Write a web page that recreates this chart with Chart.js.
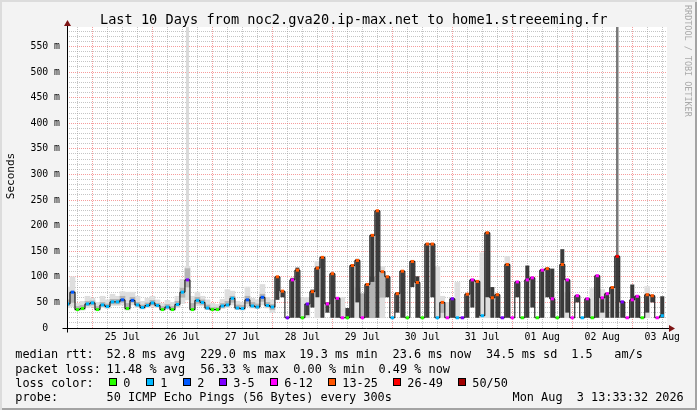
<!DOCTYPE html>
<html>
<head>
<meta charset="utf-8">
<title>Last 10 Days from noc2.gva20.ip-max.net to home1.streeeming.fr</title>
<script src="https://cdn.jsdelivr.net/npm/chart.js@4.4.1/dist/chart.umd.min.js"></script>
<style>
  html, body { margin: 0; padding: 0; background: #f3f3f3; }
  #frame {
    position: relative; width: 697px; height: 410px; overflow: hidden;
    background: #f3f3f3;
    box-shadow: inset 2px 2px 0 #dcdcdc, inset -2px -2px 0 #a3a3a3;
  }
  #chart { position: absolute; left: 0; top: 0; }
  .txt { position: absolute; font-family: 'DejaVu Sans Mono', monospace; white-space: pre; color: #000; }
  .leg { font-size: 11.85px; line-height: 14px; }
  .sw { position: absolute; top: 378px; width: 8px; height: 8px; box-sizing: border-box; border: 1px solid #000; }
  #title { left: 100px; top: 11px; font-size: 13.6px; line-height: 16px; }
  #ylabel { left: -39px; top: 169px; width: 100px; text-align: center; font-size: 11px; line-height: 14px; transform: rotate(-90deg); }
  #credit { left: 683px; top: 5px; font-size: 8.45px; line-height: 9px; color: #a9a9a9; writing-mode: vertical-rl; }
</style>
</head>
<body>
<div id="frame">
  <canvas id="chart" width="697" height="410"></canvas>
  <div class="txt" id="title">Last 10 Days from noc2.gva20.ip-max.net to home1.streeeming.fr</div>
  <div class="txt" id="ylabel">Seconds</div>
  <div class="txt" id="credit">RRDTOOL / TOBI OETIKER</div>

  <div class="txt leg" style="left:15.3px;top:347px">median rtt:</div>
  <div class="txt leg" style="left:106.6px;top:347px">52.8 ms avg</div>
  <div class="txt leg" style="left:200.3px;top:347px">229.0 ms max</div>
  <div class="txt leg" style="left:299.3px;top:347px">19.3 ms min</div>
  <div class="txt leg" style="left:392.6px;top:347px">23.6 ms now</div>
  <div class="txt leg" style="left:486px;top:347px">34.5 ms sd</div>
  <div class="txt leg" style="left:571.3px;top:347px">1.5</div>
  <div class="txt leg" style="left:614.3px;top:347px">am/s</div>

  <div class="txt leg" style="left:15.3px;top:361.5px">packet loss:</div>
  <div class="txt leg" style="left:106.6px;top:361.5px">11.48 % avg</div>
  <div class="txt leg" style="left:200.3px;top:361.5px">56.33 % max</div>
  <div class="txt leg" style="left:293.3px;top:361.5px">0.00 % min</div>
  <div class="txt leg" style="left:378.6px;top:361.5px">0.49 % now</div>

  <div class="txt leg" style="left:15.3px;top:375.5px">loss color:</div>
  <div id="losskey"></div>

  <div class="txt leg" style="left:15.3px;top:389.5px">probe:</div>
  <div class="txt leg" style="left:106.6px;top:389.5px">50 ICMP Echo Pings (56 Bytes) every 300s</div>
  <div class="txt leg" style="left:512.6px;top:389.5px">Mon Aug  3 13:33:32 2026</div>
</div>

<script>
// x axis: hours after 24 Jul 00:00, one sample every 2 hours
const firstHour = 14;
const stepHours = 2;
const dayLabels = ['25 Jul', '26 Jul', '27 Jul', '28 Jul', '29 Jul', '30 Jul', '31 Jul', '01 Aug', '02 Aug', '03 Aug'];

// median rtt in ms
const medianRtt = [
  47, 70, 36, 38, 47, 49, 36, 45, 42, 51,
  51, 55, 38, 54, 45, 40, 44, 49, 44, 36,
  41, 36, 46, 70, 94, 36, 54, 50, 39, 36,
  36, 43, 45, 58, 39, 38, 55, 43, 41, 60,
  44, 41, 100, 72, 20, 94, 113, 20, 47, 71,
  117, 138, 47, 106, 58, 20, 20, 122, 132, 20,
  85, 181, 229, 110, 100, 20, 67, 111, 20, 130,
  89, 20, 164, 164, 20, 50, 20, 57, 20, 20,
  66, 94, 91, 24, 186, 59, 65, 20, 124, 20,
  90, 20, 94, 98, 20, 113, 116, 57, 20, 124,
  94, 20, 63, 20, 57, 20, 102, 59, 67, 79,
  140, 51, 20, 55, 62, 20, 65, 63, 20, 24
];

// packet loss class: 0 = 0, 1 = 1, 2 = 2, 3 = 3-5, 4 = 6-12, 5 = 13-25, 6 = 26-49, 7 = 50/50
const lossClass = [
  1, 2, 0, 0, 1, 1, 0, 1, 1, 1,
  1, 2, 0, 2, 1, 1, 1, 1, 1, 0,
  1, 0, 1, 1, 3, 0, 1, 1, 1, 0,
  0, 1, 1, 1, 1, 1, 2, 1, 1, 2,
  1, 1, 5, 5, 3, 4, 5, 0, 3, 5,
  5, 5, 4, 5, 4, 4, 0, 5, 5, 4,
  5, 5, 5, 5, 5, 1, 5, 5, 0, 5,
  5, 0, 5, 5, 1, 5, 4, 3, 1, 3,
  5, 4, 5, 1, 5, 5, 5, 3, 5, 4,
  4, 0, 4, 4, 0, 4, 5, 4, 0, 5,
  4, 4, 4, 1, 4, 0, 4, 4, 4, 5,
  6, 3, 4, 4, 4, 0, 5, 5, 4, 1
];

// smoke: spread of the single pings, [low, high] in ms
const smokeLight = [
  [40, 80], [42, 100], [34, 48], [35, 52], [40, 62], [42, 58], [34, 50], [40, 62], [38, 55], [44, 66],
  [44, 62], [45, 71], [35, 70], [45, 70], [40, 62], [37, 52], [40, 58], [42, 62], [40, 55], [34, 48],
  [37, 54], [34, 50], [40, 62], [48, 95], [55, 120], [34, 62], [44, 70], [43, 62], [36, 55], [34, 48],
  [34, 46], [38, 56], [40, 75], [45, 72], [36, 52], [35, 50], [42, 80], [39, 58], [38, 55], [45, 85],
  [39, 60], [30, 55], null, null, null, null, null, [20, 59], [20, 60], null,
  [20, 130], null, null, null, null, [20, 60], null, null, [20, 80], null,
  null, null, null, [20, 120], null, null, null, null, null, null,
  null, null, null, null, [20, 120], [20, 62], [20, 50], null, [20, 89], null,
  null, null, null, [20, 147], [20, 147], null, null, null, [20, 140], null,
  null, null, null, null, null, null, null, null, null, null,
  [20, 70], null, null, null, null, [20, 77], null, [20, 75], null, null,
  null, null, null, null, null, null, [20, 81], null, null, null
];

const smokeMid = [
  [44, 55], [50, 72], [35, 42], [36, 44], [44, 52], [45, 53], [35, 42], [43, 50], [40, 47], [47, 56],
  [47, 56], [50, 62], [36, 48], [50, 60], [43, 50], [38, 45], [42, 49], [45, 54], [42, 48], [35, 42],
  [39, 46], [35, 42], [43, 52], [60, 78], [80, 116], [35, 48], [48, 60], [46, 55], [37, 45], [35, 40],
  [35, 40], [40, 48], [43, 52], [50, 62], [37, 45], [36, 44], [48, 62], [41, 50], [39, 47], [52, 66],
  [41, 50], [36, 46], null, null, null, null, null, null, null, null,
  null, null, null, null, null, null, null, null, null, [20, 67],
  null, [20, 100], null, [60, 110], null, null, null, null, null, null,
  null, null, null, null, null, [30, 50], null, null, null, null,
  null, null, null, null, null, null, null, null, null, null,
  null, null, null, null, null, null, null, null, null, null,
  null, null, null, null, null, null, null, null, null, null,
  null, null, null, null, null, null, null, null, null, null
];

const smokeDark = [
  null, null, null, null, null, null, null, null, null, null,
  null, null, null, null, null, null, null, null, null, null,
  null, null, null, null, null, null, null, null, null, null,
  null, null, null, null, null, null, null, null, null, null,
  null, null, [55, 100], [60, 72], null, [20, 98], [20, 118], null, [25, 47], [40, 75],
  [60, 120], [20, 140], [30, 50], [20, 108], [20, 60], null, [20, 39], [20, 124], [50, 135], null,
  [20, 88], [90, 183], [20, 229], null, [60, 102], null, [30, 70], [20, 113], null, [80, 132],
  [20, 101], null, [20, 166], [60, 166], null, null, null, [20, 59], null, null,
  [20, 68], [40, 96], [20, 93], null, [60, 188], [20, 80], [20, 67], null, [20, 126], null,
  [60, 92], null, [20, 122], [40, 100], null, [20, 115], [60, 118], [20, 116], null, [20, 154],
  [30, 96], null, [50, 65], null, [20, 59], null, [20, 104], [30, 60], [20, 69], [20, 81],
  [20, 142], [20, 53], null, [20, 85], [20, 64], null, [30, 67], [50, 65], null, [20, 62]
];

// single slow pings far above the rest: [hour, low, high]
const faintPeaks = [[62, 116, 588]];
const strongPeaks = [[234, 142, 588]];

const lossLabels = ['0', '1', '2', '3-5', '6-12', '13-25', '26-49', '50/50'];
const lossColors = ['#26ff00', '#00b8ff', '#0059ff', '#7e00ff', '#ff00ff', '#ff5500', '#ff0000', '#a10000'];

/* =====================
   LOSS COLOR KEY
===================== */
const keyPos = [109, 146, 183, 219, 270, 328, 393, 458];
const key = document.getElementById('losskey');
lossLabels.forEach((label, i) => {
  const sw = document.createElement('div');
  sw.className = 'sw';
  sw.style.left = keyPos[i] + 'px';
  sw.style.background = lossColors[i];
  key.appendChild(sw);
  const t = document.createElement('div');
  t.className = 'txt leg';
  t.style.left = (keyPos[i] + 14.3) + 'px';
  t.style.top = '375.5px';
  t.textContent = label;
  key.appendChild(t);
});

/* =====================
   CHART
===================== */
const hours = medianRtt.map((_, i) => firstHour + i * stepHours);
const bars = (ranges) => ranges
  .map((r, i) => ({ x: hours[i], y: r }))
  .filter((p) => p.y !== null);
const peakBars = (peaks) => peaks.map(([h, lo, hi]) => ({ x: h, y: [lo, hi] }));

const gridHours = [];
for (let h = 18; h <= 252; h += 6) gridHours.push(h);
const gridRtt = [];
for (let v = 0; v <= 580; v += 10) gridRtt.push(v);

const minorGrid = 'rgba(150,150,150,0.55)';
const majorGrid = 'rgba(240,90,90,0.6)';
const tickFont = { family: "'DejaVu Sans Mono', monospace", size: 9.8 };

const rrdFrame = {
  id: 'rrdFrame',
  beforeDraw(chart) {
    const { ctx, chartArea: a } = chart;
    ctx.save();
    ctx.fillStyle = '#ffffff';
    ctx.fillRect(a.left, a.top, a.right - a.left, a.bottom - a.top);
    ctx.restore();
  },
  afterDraw(chart) {
    const { ctx, chartArea: a } = chart;
    const x0 = Math.round(a.left) + 0.5;
    const y0 = Math.round(a.bottom) + 0.5;
    ctx.save();
    ctx.strokeStyle = '#000';
    ctx.lineWidth = 1;
    ctx.beginPath();
    ctx.moveTo(x0 - 5, y0);
    ctx.lineTo(a.right + 3, y0);
    ctx.moveTo(x0, y0 + 4);
    ctx.lineTo(x0, a.top - 3);
    ctx.stroke();
    ctx.fillStyle = '#7d1414';
    ctx.beginPath();
    ctx.moveTo(a.right + 2, y0 - 3.5);
    ctx.lineTo(a.right + 8, y0);
    ctx.lineTo(a.right + 2, y0 + 3.5);
    ctx.closePath();
    ctx.fill();
    ctx.beginPath();
    ctx.moveTo(x0 - 3.5, a.top - 1);
    ctx.lineTo(x0, a.top - 7);
    ctx.lineTo(x0 + 3.5, a.top - 1);
    ctx.closePath();
    ctx.fill();
    ctx.restore();
  }
};

const smokeSet = (label, data, color, order, width) => ({
  label,
  data,
  backgroundColor: color,
  borderWidth: 0,
  grouped: false,
  barPercentage: width,
  categoryPercentage: 1,
  order
});

new Chart(document.getElementById('chart'), {
  type: 'bar',
  data: {
    datasets: [
      {
        type: 'line',
        label: 'median rtt',
        data: medianRtt.map((v, i) => ({ x: hours[i], y: v })),
        stepped: 'middle',
        borderColor: '#000',
        borderWidth: 1,
        pointStyle: 'line',
        pointRadius: 1.6,
        pointBorderWidth: 3,
        pointBorderColor: lossClass.map((c) => lossColors[c]),
        pointBackgroundColor: lossClass.map((c) => lossColors[c]),
        order: 0
      },
      smokeSet('smoke dark', bars(smokeDark), '#3b3b3b', 1, 0.8),
      smokeSet('smoke mid', bars(smokeMid), '#b4b4b4', 2, 1),
      smokeSet('smoke light', bars(smokeLight), '#dedede', 3, 1),
      smokeSet('peak strong', peakBars(strongPeaks), '#7a7a7a', 4, 0.5),
      smokeSet('peak faint', peakBars(faintPeaks), '#dadada', 5, 0.6)
    ]
  },
  options: {
    responsive: false,
    animation: false,
    events: [],
    layout: { padding: { top: 27, right: 30, left: 0, bottom: 0 } },
    plugins: { legend: { display: false }, tooltip: { enabled: false } },
    scales: {
      x: {
        type: 'linear',
        min: 13.8,
        max: 253.9,
        offset: false,
        afterBuildTicks: (axis) => { axis.ticks = gridHours.map((v) => ({ value: v })); },
        afterFit: (axis) => { axis.height = 82; },
        grid: {
          offset: false,
          drawTicks: false,
          lineWidth: 1,
          color: (c) => (c.tick && c.tick.value % 24 === 0 ? majorGrid : minorGrid)
        },
        border: { display: false, dash: [1, 1] },
        ticks: {
          autoSkip: false,
          maxRotation: 0,
          minRotation: 0,
          padding: 4,
          color: '#000',
          font: tickFont,
          callback: (v) => (v % 24 === 12 ? dayLabels[(v - 36) / 24] : '')
        }
      },
      y: {
        min: 0,
        max: 588,
        afterBuildTicks: (axis) => { axis.ticks = gridRtt.map((v) => ({ value: v })); },
        afterFit: (axis) => { axis.width = 67; },
        grid: {
          drawTicks: false,
          lineWidth: 1,
          color: (c) => (c.tick && c.tick.value % 50 === 0 ? majorGrid : minorGrid)
        },
        border: { display: false, dash: [1, 1] },
        ticks: {
          autoSkip: false,
          padding: 7,
          color: '#000',
          font: tickFont,
          callback: (v) => (v % 50 === 0 ? (v === 0 ? '0  ' : v + ' m') : '')
        }
      }
    }
  },
  plugins: [rrdFrame]
});
</script>
</body>
</html>
